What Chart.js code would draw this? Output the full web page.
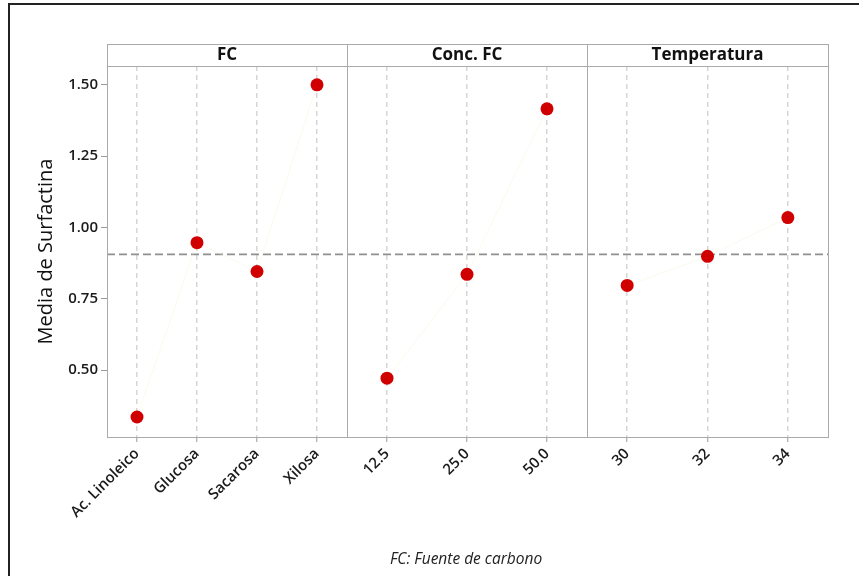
<!DOCTYPE html>
<html>
<head>
<meta charset="utf-8">
<script src="https://cdn.jsdelivr.net/npm/chart.js@4.4.1/dist/chart.umd.min.js"></script>
<style>
  html, body { margin: 0; padding: 0; background: #fff; }
  #wrap { position: relative; width: 859px; height: 576px; overflow: hidden; background: #fff; }
  #frame { position: absolute; left: 8px; top: 3px; width: 900px; height: 600px;
           border-top: 2px solid #222; border-left: 2px solid #222; }
  canvas { position: absolute; top: 0; }
  #c1 { left: 0; } #c2 { left: 337px; } #c3 { left: 577px; }
  #caption { position: absolute; left: 0; width: 932px; top: 547px; text-align: center;
             font: italic 15.5px "Open Sans", sans-serif; color: #222; }
</style>
</head>
<body>
<div id="wrap">
  <div id="frame"></div>
  <canvas id="c1" width="357" height="576"></canvas>
  <canvas id="c2" width="260" height="576"></canvas>
  <canvas id="c3" width="261" height="576"></canvas>
  <div id="caption">FC: Fuente de carbono</div>
</div>
<script>
// datos (medias)
const fcLabels = ['Ac. Linoleico', 'Glucosa', 'Sacarosa', 'Xilosa'];
const fcMeans = [0.336, 0.947, 0.846, 1.50];
const concLabels = ['12.5', '25.0', '50.0'];
const concMeans = [0.472, 0.836, 1.416];
const tempLabels = ['30', '32', '34'];
const tempMeans = [0.797, 0.899, 1.035];
const grandMean = 0.906;
const yTicks = [0.50, 0.75, 1.00, 1.25, 1.50];
const yMin = 0.266, yMax = 1.566;

const FONT = '"Open Sans", "Noto Sans", sans-serif';
const GRID = '#d6d6d6';
const FRAME = '#aaaaaa';

// marco del panel, franja con el título y línea de la media
const panelPlugin = {
  id: 'panel',
  beforeDatasetsDraw(chart, args, opts) {
    const { ctx, chartArea: a, scales } = chart;
    const y = scales.y.getPixelForValue(grandMean);
    ctx.save();
    ctx.strokeStyle = '#8f8f8f';
    ctx.lineWidth = 1.6;
    ctx.setLineDash([8, 4]);
    ctx.beginPath();
    ctx.moveTo(a.left, y);
    ctx.lineTo(a.right, y);
    ctx.stroke();
    ctx.setLineDash([]);
    ctx.strokeStyle = FRAME;
    ctx.lineWidth = 1;
    ctx.strokeRect(a.left + 0.5, a.top + 0.5, a.right - a.left, a.bottom - a.top);
    ctx.strokeRect(a.left + 0.5, a.top - 21.5, a.right - a.left, 22);
    ctx.fillStyle = '#111';
    ctx.font = 'bold 17px ' + FONT;
    ctx.textAlign = 'center';
    ctx.textBaseline = 'middle';
    ctx.fillText(opts.title, (a.left + a.right) / 2, a.top - 10.5);
    ctx.restore();
  }
};

const makeChart = (id, labels, values, title, first) => new Chart(document.getElementById(id), {
  type: 'line',
  data: {
    labels,
    datasets: [{
      data: values,
      borderColor: 'rgba(240,240,205,0.35)',
      borderWidth: 1,
      pointRadius: 6.5,
      pointHoverRadius: 6.5,
      pointBackgroundColor: '#d10000',
      pointBorderColor: '#d10000',
      pointBorderWidth: 0,
      tension: 0
    }]
  },
  options: {
    responsive: false,
    animation: false,
    layout: { padding: { left: first ? 30 : 10, right: 10, top: 66, bottom: 0 } },
    plugins: {
      legend: { display: false },
      tooltip: { enabled: false },
      panel: { title }
    },
    scales: {
      x: {
        type: 'category',
        offset: true,
        afterFit: (s) => { s.height = 139; },
        border: { display: false },
        grid: {
          offset: false,
          color: GRID,
          lineWidth: 1.5,
          tickColor: '#9a9a9a',
          tickLength: 5,
          tickWidth: 1,
          tickBorderDash: []
        },
        ticks: {
          autoSkip: false,
          minRotation: 45,
          maxRotation: 45,
          padding: 3,
          color: '#1a1a1a',
          font: { family: FONT, size: 15, weight: '600' }
        }
      },
      y: {
        display: first,
        min: yMin,
        max: yMax,
        afterFit: (s) => { if (first) s.width = 77; },
        afterBuildTicks: (s) => { s.ticks = yTicks.map(v => ({ value: v })); },
        border: { display: false },
        grid: { drawOnChartArea: false, tickLength: 6, tickColor: '#9a9a9a' },
        ticks: {
          padding: 3,
          color: '#1a1a1a',
          font: { family: FONT, size: 15, weight: '600' },
          callback: v => Number(v).toFixed(2)
        },
        title: {
          display: first,
          text: 'Media de Surfactina',
          color: '#111',
          font: { family: FONT, size: 20, weight: '500' }
        }
      }
    }
  },
  plugins: [panelPlugin]
});

const charts = [
  makeChart('c1', fcLabels, fcMeans, 'FC', true),
  makeChart('c2', concLabels, concMeans, 'Conc. FC', false),
  makeChart('c3', tempLabels, tempMeans, 'Temperatura', false)
];
// rejilla vertical discontinua
charts.forEach(c => {
  c.options.scales.x.grid.borderDash = [5, 4];
  c.options.scales.x.border = { display: false, dash: [5, 4] };
  c.update('none');
});
</script>
</body>
</html>
